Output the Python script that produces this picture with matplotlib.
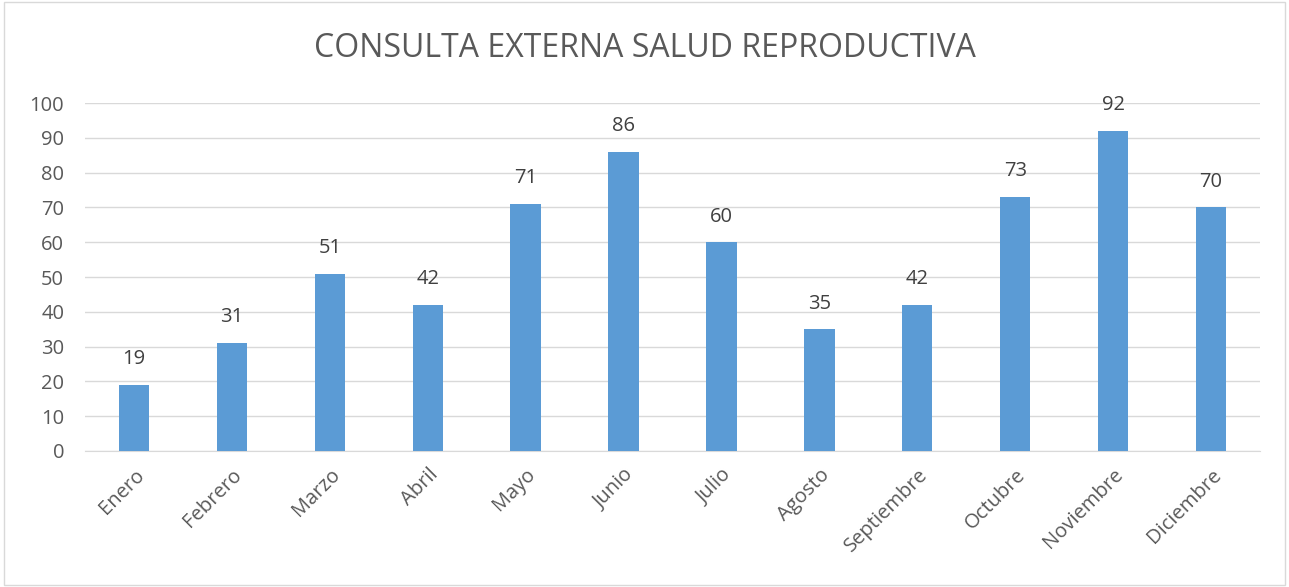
import matplotlib
matplotlib.use("Agg")
import matplotlib.pyplot as plt
from matplotlib.patches import Rectangle

months = ["Enero", "Febrero", "Marzo", "Abril", "Mayo", "Junio", "Julio",
          "Agosto", "Septiembre", "Octubre", "Noviembre", "Diciembre"]
values = [19, 31, 51, 42, 71, 86, 60, 35, 42, 73, 92, 70]
yticks = [0, 10, 20, 30, 40, 50, 60, 70, 80, 90, 100]
title = "CONSULTA EXTERNA SALUD REPRODUCTIVA"

plt.rcParams['font.family'] = ['Open Sans', 'DejaVu Sans']

fig = plt.figure(figsize=(12.89, 5.87), dpi=100)
ax = fig.add_axes([0.066, 0.2317, 0.9115, 0.5928])

x = list(range(len(months)))
ax.bar(x, values, width=0.31, color="#5B9BD5", zorder=3)
for xi, v in zip(x, values):
    ax.text(xi, v + 4.5, str(v), ha="center", va="bottom", fontsize=14.5, color="#404040")

ax.set_xlim(-0.5, len(months) - 0.5)
ax.set_ylim(0, 100)
ax.set_yticks(yticks)
ax.set_yticklabels([str(t) for t in yticks], fontsize=14.5, color="#595959")
ax.set_xticks(x)
ax.set_xticklabels(months, rotation=45, ha="right", rotation_mode="anchor",
                   fontsize=14.5, color="#595959")
ax.tick_params(axis="y", length=0, pad=15)
ax.tick_params(axis="x", length=0, pad=10)
ax.grid(axis="y", color="#D9D9D9", linewidth=1, zorder=0)
for s in ["top", "right", "left"]:
    ax.spines[s].set_visible(False)
ax.spines["bottom"].set_color("#D9D9D9")

fig.text(0.5, 0.918, title, ha="center", va="center", fontsize=23, color="#595959")

fig.patches.append(Rectangle((0.003, 0.003), 0.994, 0.994, transform=fig.transFigure,
                             fill=False, edgecolor="#D9D9D9", linewidth=1))

fig.savefig("out.png", dpi=100)
